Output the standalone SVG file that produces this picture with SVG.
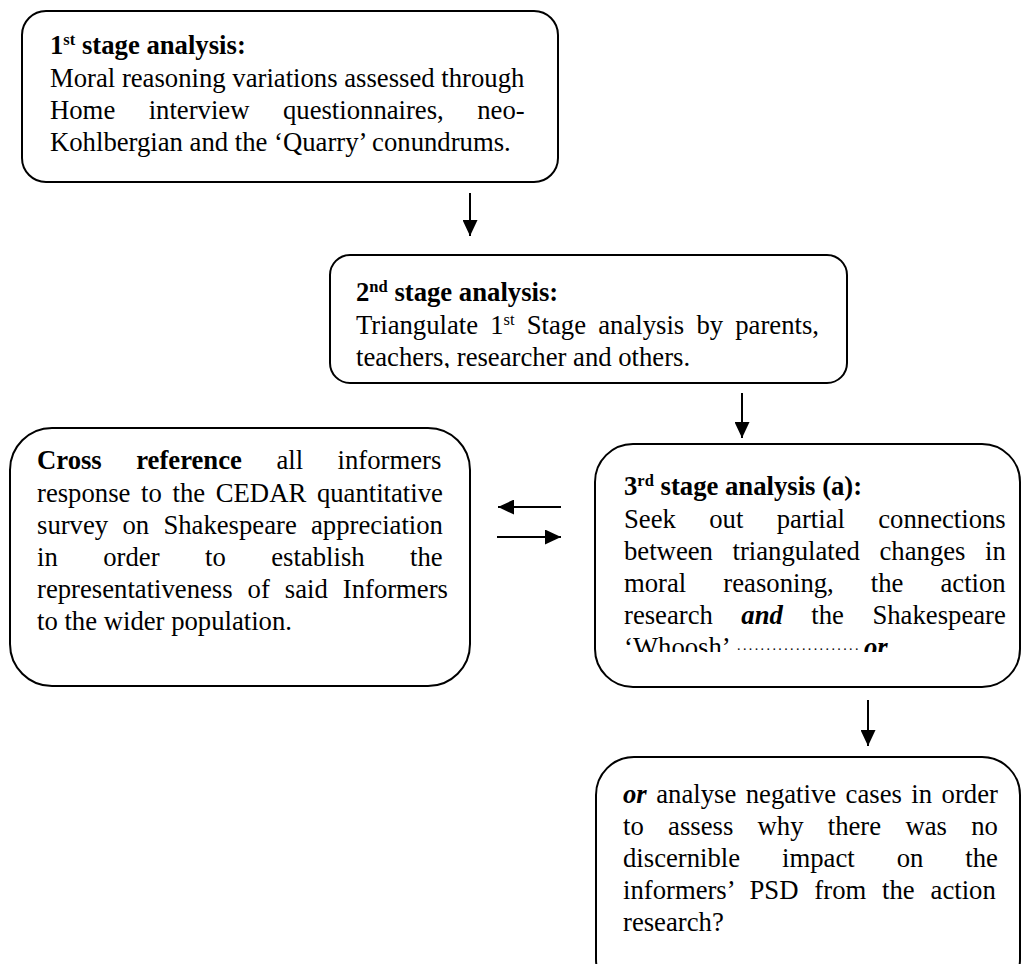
<svg xmlns="http://www.w3.org/2000/svg" width="1021" height="964" viewBox="0 0 1021 964">
<style>
.box{fill:#fff;stroke:#000;stroke-width:2}
text{font-family:"Liberation Serif","Times New Roman",serif;font-size:26.7px;fill:#000}
.b{font-weight:bold}
.bi{font-weight:bold;font-style:italic}
.sup{font-size:16.5px}
.dots{font-size:14px;letter-spacing:2.4px}
.con{stroke:#000;stroke-width:2;fill:none}
</style>
<defs>
<marker id="ah" markerUnits="userSpaceOnUse" markerWidth="16" markerHeight="15" refX="16" refY="7.5" orient="auto">
<path d="M0,0 L16,7.5 L0,15 z" fill="#000"/>
</marker>
<clipPath id="c2"><rect x="320" y="250" width="540" height="118"/></clipPath>
<clipPath id="c4"><rect x="590" y="440" width="431" height="212"/></clipPath>
</defs>
<rect width="1021" height="964" fill="#fff"/>
<g id="connectors">
<line class="con" x1="470" y1="193" x2="470" y2="236" marker-end="url(#ah)"/>
<line class="con" x1="742" y1="393" x2="742" y2="438" marker-end="url(#ah)"/>
<line class="con" x1="868" y1="700" x2="868" y2="746" marker-end="url(#ah)"/>
<line class="con" x1="561" y1="507" x2="498" y2="507" marker-end="url(#ah)"/>
<line class="con" x1="497" y1="537" x2="561" y2="537" marker-end="url(#ah)"/>
</g>
<g id="stage1">
<rect class="box" x="22" y="11" width="536" height="171" rx="24"/>
<text x="50" y="54" class="b">1<tspan class="sup" dy="-9">st</tspan><tspan dy="9"> stage analysis:</tspan></text>
<text x="50" y="87">Moral reasoning variations assessed through</text>
<text x="50" y="119" word-spacing="26.8">Home interview questionnaires, neo-</text>
<text x="50" y="151">Kohlbergian and the ‘Quarry’ conundrums.</text>
</g>
<g id="stage2">
<rect class="box" x="330" y="255" width="517" height="128" rx="20"/>
<g clip-path="url(#c2)">
<text x="356" y="301" class="b">2<tspan class="sup" dy="-9">nd</tspan><tspan dy="9"> stage analysis:</tspan></text>
<text x="356" y="334" word-spacing="5.5">Triangulate 1<tspan class="sup" dy="-9">st</tspan><tspan dy="9"> Stage analysis by parents,</tspan></text>
<text x="356" y="366">teachers, researcher and others.</text>
</g>
</g>
<g id="crossref">
<rect class="box" x="10" y="428" width="460" height="258" rx="42"/>
<text x="37" y="469" word-spacing="27.8"><tspan class="b">Cross reference</tspan> all informers</text>
<text x="37" y="502" word-spacing="4">response to the CEDAR quantitative</text>
<text x="37" y="534" word-spacing="7.6">survey on Shakespeare appreciation</text>
<text x="37" y="566" word-spacing="38.8">in order to establish the</text>
<text x="37" y="598" word-spacing="8.3">representativeness of said Informers</text>
<text x="37" y="630">to the wider population.</text>
</g>
<g id="stage3a">
<rect class="box" x="595" y="444" width="425" height="243" rx="38"/>
<g clip-path="url(#c4)">
<text x="624" y="495" class="b">3<tspan class="sup" dy="-9">rd</tspan><tspan dy="9"> stage analysis (a):</tspan></text>
<text x="624" y="528" word-spacing="26.7">Seek out partial connections</text>
<text x="624" y="560" word-spacing="12.9">between triangulated changes in</text>
<text x="624" y="592" word-spacing="30.4">moral reasoning, the action</text>
<text x="624" y="624" word-spacing="21.8">research <tspan class="bi">and</tspan> the Shakespeare</text>
<text x="624" y="656">‘Whoosh’</text>
<text x="737" y="650" class="dots">.....................</text>
<text x="864" y="656" class="bi">or</text>
</g>
</g>
<g id="stage3b">
<rect class="box" x="596" y="757" width="424" height="240" rx="38"/>
<text x="623" y="803" word-spacing="2.8"><tspan class="bi">or</tspan> analyse negative cases in order</text>
<text x="623" y="835" word-spacing="17.6">to assess why there was no</text>
<text x="623" y="867" word-spacing="35.3">discernible impact on the</text>
<text x="623" y="899" word-spacing="9.2">informers’ PSD from the action</text>
<text x="623" y="931">research?</text>
</g>
</svg>
